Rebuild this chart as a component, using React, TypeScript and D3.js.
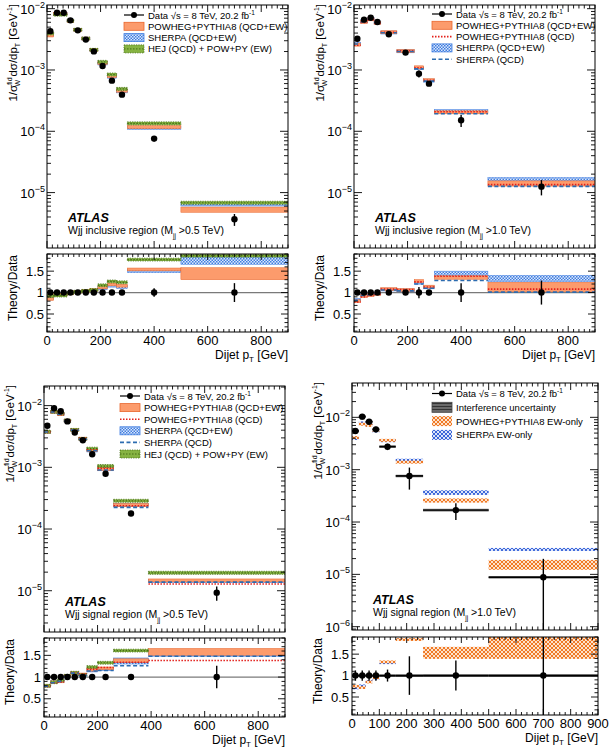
import * as d3 from "d3";

const FONT = "'Liberation Sans', Arial, Helvetica, sans-serif";

// ---- top-left: Wjj inclusive region, Mjj > 0.5 TeV
const inc05Edges = [0, 25, 50, 75, 100, 130, 160, 190, 225, 260, 300, 500, 900];
const inc05Data = [4.3e-3, 8.6e-3, 8.6e-3, 6.45e-3, 4.43e-3, 3.13e-3, 2.01e-3, 1.16e-3, 6.7e-4, 3.96e-4, 7.6e-5, 3.67e-6];
const inc05DataErr = [0.02, 0.02, 0.02, 0.02, 0.02, 0.02, 0.02, 0.03, 0.03, 0.03, 0.1, 0.22];
const inc05PowhegEW = [0.85, 0.95, 0.95, 0.98, 1.02, 1.04, 1.06, 1.12, 1.19, 1.16, 1.54, 1.44];
const inc05PowhegEWErr = [0.03, 0.02, 0.02, 0.02, 0.02, 0.02, 0.02, 0.02, 0.02, 0.02, 0.02, 0.14];
const inc05SherpaEW = [0.87, 0.95, 0.96, 0.99, 1.02, 1.04, 1.05, 1.1, 1.16, 1.13, 1.5, 1.74];
const inc05SherpaEWErr = [0.03, 0.02, 0.02, 0.02, 0.02, 0.02, 0.02, 0.02, 0.02, 0.02, 0.03, 0.08];
const inc05Hej = [0.92, 0.93, 0.93, 0.99, 1.02, 1.04, 1.06, 1.17, 1.26, 1.24, 1.77, 1.86];
const inc05HejErr = [0.02, 0.02, 0.02, 0.02, 0.02, 0.02, 0.02, 0.02, 0.02, 0.02, 0.03, 0.02];

// ---- top-right: Wjj inclusive region, Mjj > 1.0 TeV
const inc10Edges = [0, 25, 50, 75, 100, 160, 225, 260, 300, 500, 900];
const inc10Data = [3.24e-3, 6.62e-3, 7.13e-3, 6.07e-3, 3.82e-3, 1.92e-3, 8.7e-4, 5.98e-4, 1.51e-4, 1.25e-5];
const inc10DataErr = [0.02, 0.02, 0.02, 0.02, 0.02, 0.03, 0.13, 0.06, 0.22, 0.28];
const inc10PowhegEW = [0.8, 0.92, 0.94, 0.97, 1.08, 1.06, 1.27, 1.14, 1.35, 1.13];
const inc10PowhegEWErr = [0.03, 0.02, 0.02, 0.02, 0.02, 0.02, 0.03, 0.03, 0.04, 0.11];
const inc10PowhegQCD = [0.78, 0.9, 0.93, 0.96, 1.08, 1.07, 1.25, 1.13, 1.38, 1.08];
const inc10SherpaEW = [0.83, 0.94, 0.96, 0.98, 1.07, 1.05, 1.23, 1.12, 1.42, 1.33];
const inc10SherpaEWErr = [0.03, 0.02, 0.02, 0.02, 0.02, 0.02, 0.03, 0.03, 0.08, 0.07];
const inc10SherpaQCD = [0.82, 0.93, 0.95, 0.98, 1.06, 1.04, 1.2, 1.1, 1.28, 1.01];

// ---- bottom-left: Wjj signal region, Mjj > 0.5 TeV
const sig05Edges = [0, 25, 50, 75, 100, 130, 160, 200, 260, 390, 900];
const sig05Data = [4.72e-3, 9.05e-3, 8.09e-3, 5.55e-3, 3.67e-3, 2.75e-3, 1.63e-3, 7.88e-4, 1.78e-4, 9.3e-6];
const sig05DataErr = [0.02, 0.02, 0.02, 0.02, 0.03, 0.03, 0.04, 0.04, 0.06, 0.26];
const sig05PowhegEW = [0.8, 0.88, 0.9, 1.03, 1.1, 1.06, 1.17, 1.2, 1.38, 1.58];
const sig05PowhegEWErr = [0.02, 0.02, 0.02, 0.02, 0.02, 0.02, 0.02, 0.03, 0.04, 0.08];
const sig05PowhegQCD = [0.79, 0.87, 0.89, 1.02, 1.1, 1.07, 1.18, 1.22, 1.34, 1.38];
const sig05SherpaEW = [0.8, 0.88, 0.91, 1.02, 1.1, 1.05, 1.15, 1.18, 1.37, 1.55];
const sig05SherpaEWErr = [0.02, 0.02, 0.02, 0.02, 0.02, 0.02, 0.02, 0.03, 0.07, 0.07];
const sig05SherpaQCD = [0.79, 0.87, 0.9, 1.01, 1.09, 1.04, 1.14, 1.15, 1.26, 1.48];
const sig05Hej = [0.8, 0.88, 0.92, 1.03, 1.1, 1.05, 1.23, 1.33, 1.61, 2.1];
const sig05HejErr = [0.02, 0.02, 0.02, 0.02, 0.02, 0.02, 0.02, 0.02, 0.02, 0.02];

// ---- bottom-right: Wjj signal region, Mjj > 1.0 TeV (EW-only)
const sig10Edges = [0, 25, 50, 75, 100, 160, 260, 500, 900];
const sig10Data = [5.48e-3, 1.03e-2, 8.26e-3, 5.9e-3, 2.75e-3, 7.57e-4, 1.69e-4, 8.8e-6];
const sig10DataErr = [0.12, 0.12, 0.12, 0.12, 0.14, 0.45, 0.35, 1.25];
const sig10Interf = [0.01, 0.01, 0.01, 0.01, 0.015, 0.03, 0.01, 0.03];
const sig10PowhegEWOnly = [0.75, 0.72, 0.85, 0.95, 1.32, 1.84, 1.53, 1.77];
const sig10PowhegEWOnlyErr = [0.03, 0.03, 0.03, 0.03, 0.03, 0.03, 0.14, 0.38];
const sig10SherpaEWOnly = [0.72, 0.76, 0.86, 0.93, 1.3, 2.0, 2.17, 3.4];
const sig10SherpaEWOnlyErr = [0.04, 0.03, 0.03, 0.03, 0.03, 0.03, 0.22, 0.05];

const ORANGE = "#fc9b6c";
const ORANGE_EDGE = "#e8662d";
const RED = "#e3201b";
const BLUE_DASH = "#2c6cb0";
const GREEN = "#86b342";
const GREEN_EDGE = "#466e16";

type Kind = "orange" | "sherpa" | "hej" | "redline" | "blueline" | "powew" | "sherpaew" | "interf" | "data";
type Model = { kind: Kind; ratio: number[]; err?: number[] };
type LegendItem = { kind: Kind; label: any };

type PanelCfg = {
  id: string;
  left: number; right: number;
  mainTop: number; mainBot: number;
  ratioTop: number; ratioBot: number;
  logMin: number; logMax: number;
  xStep: number; xLabelMax: number;
  edges: number[]; data: number[]; dataErr: number[];
  interf?: number[];
  models: Model[];
  legend: LegendItem[];
  legX: number; legTop: number; legDy: number; boxH: number;
  region: string; cut: string;
  hbars: boolean;
};

const layerOf: Record<string, number> = { sherpa: 0, sherpaew: 0, orange: 1, powew: 1, hej: 2, redline: 3, blueline: 4 };

const dataLabel = (
  <>
    Data √s = 8 TeV, 20.2 fb<tspan dy={-4} fontSize={6.5}>-1</tspan>
  </>
);

const panels: PanelCfg[] = [
  {
    id: "p1", left: 47, right: 288, mainTop: 5, mainBot: 248, ratioTop: 254, ratioBot: 332,
    logMin: -5.904, logMax: -1.94, xStep: 200, xLabelMax: 800,
    edges: inc05Edges, data: inc05Data, dataErr: inc05DataErr,
    models: [
      { kind: "sherpa", ratio: inc05SherpaEW, err: inc05SherpaEWErr },
      { kind: "orange", ratio: inc05PowhegEW, err: inc05PowhegEWErr },
      { kind: "hej", ratio: inc05Hej, err: inc05HejErr },
    ],
    legend: [
      { kind: "data", label: dataLabel },
      { kind: "orange", label: "POWHEG+PYTHIA8 (QCD+EW)" },
      { kind: "sherpa", label: "SHERPA (QCD+EW)" },
      { kind: "hej", label: "HEJ (QCD) + POW+PY (EW)" },
    ],
    legX: 77, legTop: 10, legDy: 11.3, boxH: 8,
    region: "Wjj inclusive region (M", cut: " >0.5 TeV)", hbars: false,
  },
  {
    id: "p2", left: 354, right: 595, mainTop: 5, mainBot: 248, ratioTop: 254, ratioBot: 332,
    logMin: -5.904, logMax: -1.94, xStep: 200, xLabelMax: 800,
    edges: inc10Edges, data: inc10Data, dataErr: inc10DataErr,
    models: [
      { kind: "sherpa", ratio: inc10SherpaEW, err: inc10SherpaEWErr },
      { kind: "orange", ratio: inc10PowhegEW, err: inc10PowhegEWErr },
      { kind: "redline", ratio: inc10PowhegQCD },
      { kind: "blueline", ratio: inc10SherpaQCD },
    ],
    legend: [
      { kind: "data", label: dataLabel },
      { kind: "orange", label: "POWHEG+PYTHIA8 (QCD+EW)" },
      { kind: "redline", label: "POWHEG+PYTHIA8 (QCD)" },
      { kind: "sherpa", label: "SHERPA (QCD+EW)" },
      { kind: "blueline", label: "SHERPA (QCD)" },
    ],
    legX: 78, legTop: 9, legDy: 11.3, boxH: 8,
    region: "Wjj inclusive region (M", cut: " >1.0 TeV)", hbars: false,
  },
  {
    id: "p3", left: 44, right: 285, mainTop: 386, mainBot: 632, ratioTop: 638, ratioBot: 717,
    logMin: -5.669, logMax: -1.682, xStep: 200, xLabelMax: 800,
    edges: sig05Edges, data: sig05Data, dataErr: sig05DataErr,
    models: [
      { kind: "sherpa", ratio: sig05SherpaEW, err: sig05SherpaEWErr },
      { kind: "orange", ratio: sig05PowhegEW, err: sig05PowhegEWErr },
      { kind: "hej", ratio: sig05Hej, err: sig05HejErr },
      { kind: "redline", ratio: sig05PowhegQCD },
      { kind: "blueline", ratio: sig05SherpaQCD },
    ],
    legend: [
      { kind: "data", label: dataLabel },
      { kind: "orange", label: "POWHEG+PYTHIA8 (QCD+EW)" },
      { kind: "redline", label: "POWHEG+PYTHIA8 (QCD)" },
      { kind: "sherpa", label: "SHERPA (QCD+EW)" },
      { kind: "blueline", label: "SHERPA (QCD)" },
      { kind: "hej", label: "HEJ (QCD) + POW+PY (EW)" },
    ],
    legX: 76, legTop: 10, legDy: 11.6, boxH: 8,
    region: "Wjj signal region (M", cut: " >0.5 TeV)", hbars: false,
  },
  {
    id: "p4", left: 352, right: 598, mainTop: 383, mainBot: 630, ratioTop: 637, ratioBot: 715,
    logMin: -6.063, logMax: -1.344, xStep: 100, xLabelMax: 900,
    edges: sig10Edges, data: sig10Data, dataErr: sig10DataErr, interf: sig10Interf,
    models: [
      { kind: "sherpaew", ratio: sig10SherpaEWOnly, err: sig10SherpaEWOnlyErr },
      { kind: "powew", ratio: sig10PowhegEWOnly, err: sig10PowhegEWOnlyErr },
    ],
    legend: [
      { kind: "data", label: dataLabel },
      { kind: "interf", label: "Interference uncertainty" },
      { kind: "powew", label: "POWHEG+PYTHIA8 EW-only" },
      { kind: "sherpaew", label: "SHERPA EW-only" },
    ],
    legX: 80, legTop: 10.5, legDy: 13.8, boxH: 10,
    region: "Wjj signal region (M", cut: " >1.0 TeV)", hbars: true,
  },
];

const bandFill = (k: Kind) =>
  k === "orange" ? ORANGE : k === "sherpa" ? "url(#chk)" : k === "hej" ? GREEN :
  k === "powew" ? "url(#powew)" : k === "sherpaew" ? "url(#sherpaew)" : "url(#interf)";
const bandStroke = (k: Kind) =>
  k === "orange" ? ORANGE_EDGE : k === "sherpa" ? "#3f7de0" : k === "hej" ? GREEN_EDGE : "none";

function band(ya: number, yb: number, minH: number) {
  let top = Math.min(ya, yb);
  let h = Math.abs(yb - ya);
  if (h < minH) { top = (ya + yb) / 2 - minH / 2; h = minH; }
  return { top, h };
}

function ModelMarks({ m, x, yf, edges, minH }: { m: Model; x: any; yf: (i: number, r: number) => number; edges: number[]; minH: number }) {
  return (
    <g>
      {m.ratio.map((r, i) => {
        const x0 = x(edges[i]);
        const x1 = x(edges[i + 1]);
        if (m.kind === "redline" || m.kind === "blueline") {
          const yy = yf(i, r);
          return (
            <line key={i} x1={x0} x2={x1} y1={yy} y2={yy}
              stroke={m.kind === "redline" ? RED : BLUE_DASH} strokeWidth={1.6}
              strokeDasharray={m.kind === "redline" ? "1.5,1.5" : "4,2.5"} />
          );
        }
        const e = m.err ? m.err[i] : 0;
        const b = band(yf(i, r + e), yf(i, Math.max(r - e, 1e-3)), minH);
        const yc = yf(i, r);
        return (
          <g key={i}>
            <rect x={x0} y={b.top} width={x1 - x0} height={b.h} fill={bandFill(m.kind)}
              stroke={bandStroke(m.kind)} strokeWidth={m.kind === "hej" ? 0.8 : 0.5}
              strokeDasharray={m.kind === "hej" ? "1.2,1.2" : undefined} />
            {m.kind === "hej" && (
              <line x1={x0} x2={x1} y1={yc} y2={yc} stroke={GREEN_EDGE} strokeWidth={1.2} strokeDasharray="1.5,1.5" />
            )}
          </g>
        );
      })}
    </g>
  );
}

function LegendSymbol({ kind, x0, yc, h }: { kind: Kind; x0: number; yc: number; h: number }) {
  const w = 20;
  if (kind === "data") {
    return (
      <g>
        <line x1={x0} x2={x0 + w} y1={yc} y2={yc} stroke="#000" strokeWidth={1.2} />
        <circle cx={x0 + w / 2} cy={yc} r={3} fill="#000" />
      </g>
    );
  }
  if (kind === "redline" || kind === "blueline") {
    return (
      <line x1={x0} x2={x0 + w} y1={yc} y2={yc} stroke={kind === "redline" ? RED : BLUE_DASH}
        strokeWidth={1.6} strokeDasharray={kind === "redline" ? "1.5,1.5" : "4,2.5"} />
    );
  }
  return (
    <g>
      <rect x={x0} y={yc - h / 2} width={w} height={h} fill={bandFill(kind)}
        stroke={kind === "hej" ? GREEN_EDGE : kind === "interf" ? "#444" : bandStroke(kind)}
        strokeWidth={0.8} strokeDasharray={kind === "hej" ? "1.2,1.2" : undefined} />
      {kind === "hej" && (
        <line x1={x0} x2={x0 + w} y1={yc} y2={yc} stroke={GREEN_EDGE} strokeWidth={1} strokeDasharray="1.5,1.5" />
      )}
    </g>
  );
}

function Panel({ p }: { p: PanelCfg }) {
  const x = d3.scaleLinear().domain([0, 900]).range([p.left, p.right]);
  const y = d3.scaleLog().domain([Math.pow(10, p.logMin), Math.pow(10, p.logMax)]).range([p.mainBot, p.mainTop]);
  const yr = d3.scaleLinear().domain([0.08, 1.9]).range([p.ratioBot, p.ratioTop]);
  const yMin = Math.pow(10, p.logMin - 1);

  const centers = p.data.map((_, i) => (p.edges[i] + p.edges[i + 1]) / 2);
  const sorted = [...p.models].sort((a, b) => layerOf[a.kind] - layerOf[b.kind]);

  // tick paths
  let tk = "";
  const minorX = d3.range(0, 901, 20);
  for (const v of minorX) {
    const major = v % p.xStep === 0;
    const xx = x(v);
    const lm = major ? 7 : 3.5;
    const lr = major ? 6 : 3;
    tk += `M${xx},${p.mainBot}v${-lm}M${xx},${p.mainTop}v${lm}`;
    tk += `M${xx},${p.ratioBot}v${-lr}M${xx},${p.ratioTop}v${lr}`;
  }
  for (let d = Math.floor(p.logMin); d <= Math.ceil(p.logMax); d++) {
    for (let m = 1; m <= 9; m++) {
      const v = m * Math.pow(10, d);
      const lv = Math.log10(v);
      if (lv < p.logMin || lv > p.logMax) continue;
      const yy = y(v);
      const l = m === 1 ? 8 : 4;
      tk += `M${p.left},${yy}h${l}M${p.right},${yy}h${-l}`;
    }
  }
  for (const v of d3.range(0.1, 1.9001, 0.1)) {
    const major = Math.abs(v * 2 - Math.round(v * 2)) < 1e-6;
    const yy = yr(v);
    const l = major ? 7 : 3.5;
    tk += `M${p.left},${yy}h${l}M${p.right},${yy}h${-l}`;
  }

  const decades = d3.range(Math.ceil(p.logMin), Math.floor(p.logMax) + 1);
  const labX = p.left - 30;

  return (
    <g>
      <defs>
        <clipPath id={`${p.id}-main`}>
          <rect x={p.left} y={p.mainTop} width={p.right - p.left} height={p.mainBot - p.mainTop} />
        </clipPath>
        <clipPath id={`${p.id}-ratio`}>
          <rect x={p.left} y={p.ratioTop} width={p.right - p.left} height={p.ratioBot - p.ratioTop} />
        </clipPath>
      </defs>

      {/* main panel */}
      <g clipPath={`url(#${p.id}-main)`}>
        {sorted.map((m, k) => (
          <ModelMarks key={k} m={m} x={x} edges={p.edges} minH={3}
            yf={(i, r) => y(Math.max(p.data[i] * r, yMin))} />
        ))}
        {p.interf && p.interf.map((e, i) => {
          const b = band(y(p.data[i] * (1 + e)), y(p.data[i] * (1 - e)), 2.5);
          return <rect key={i} x={x(p.edges[i])} y={b.top} width={x(p.edges[i + 1]) - x(p.edges[i])} height={b.h} fill="url(#interf)" />;
        })}
        {p.data.map((v, i) => {
          const e = p.dataErr[i];
          return (
            <g key={i}>
              <line x1={x(centers[i])} x2={x(centers[i])} y1={y(v * (1 + e))} y2={y(Math.max(v * (1 - e), yMin))} stroke="#000" strokeWidth={1.4} />
              {p.hbars && <line x1={x(p.edges[i])} x2={x(p.edges[i + 1])} y1={y(v)} y2={y(v)} stroke="#000" strokeWidth={1.4} />}
              <circle cx={x(centers[i])} cy={y(v)} r={3.2} fill="#000" />
            </g>
          );
        })}
      </g>

      {/* ratio panel */}
      <g clipPath={`url(#${p.id}-ratio)`}>
        <line x1={p.left} x2={p.right} y1={yr(1)} y2={yr(1)} stroke="#7a7a7a" strokeWidth={1.2} />
        {sorted.map((m, k) => (
          <ModelMarks key={k} m={m} x={x} edges={p.edges} minH={2.8} yf={(_, r) => yr(r)} />
        ))}
        {p.interf && p.interf.map((e, i) => {
          const b = band(yr(1 + e), yr(1 - e), 2.5);
          return <rect key={i} x={x(p.edges[i])} y={b.top} width={x(p.edges[i + 1]) - x(p.edges[i])} height={b.h} fill="url(#interf)" />;
        })}
        {p.dataErr.map((e, i) => (
          <g key={i}>
            <line x1={x(centers[i])} x2={x(centers[i])} y1={yr(1 + e)} y2={yr(1 - e)} stroke="#000" strokeWidth={1.4} />
            {p.hbars && <line x1={x(p.edges[i])} x2={x(p.edges[i + 1])} y1={yr(1)} y2={yr(1)} stroke="#000" strokeWidth={1.4} />}
            <circle cx={x(centers[i])} cy={yr(1)} r={3.2} fill="#000" />
          </g>
        ))}
      </g>

      {/* frames and ticks */}
      <rect x={p.left} y={p.mainTop} width={p.right - p.left} height={p.mainBot - p.mainTop} fill="none" stroke="#000" strokeWidth={1} />
      <rect x={p.left} y={p.ratioTop} width={p.right - p.left} height={p.ratioBot - p.ratioTop} fill="none" stroke="#000" strokeWidth={1} />
      <path d={tk} stroke="#000" strokeWidth={0.9} fill="none" />

      {/* log tick labels */}
      {decades.map(d => (
        <text key={d} x={p.left - 2} y={y(Math.pow(10, d)) + 5} textAnchor="end" fontSize={13}>
          10<tspan dy={-6} fontSize={9}>{`−${-d}`}</tspan>
        </text>
      ))}
      {/* ratio tick labels */}
      {[0.5, 1, 1.5].map(v => (
        <text key={v} x={p.left - 3} y={yr(v) + 4.5} textAnchor="end" fontSize={13}>{String(v)}</text>
      ))}
      {/* x tick labels */}
      {d3.range(0, p.xLabelMax + 1, p.xStep).map(v => (
        <text key={v} x={x(v)} y={p.ratioBot + 13} textAnchor="middle" fontSize={13}>{String(v)}</text>
      ))}
      <text x={p.right} y={p.ratioBot + 27} textAnchor="end" fontSize={12}>
        Dijet p<tspan dy={3} fontSize={8}>T</tspan><tspan dy={-3}> [GeV]</tspan>
      </text>

      {/* axis titles */}
      <text transform={`translate(${labX},${p.mainTop - 1}) rotate(-90)`} textAnchor="end" fontSize={11.5}>
        1/σ<tspan dy={-5} fontSize={7}>fid</tspan><tspan dx={-9} dy={8} fontSize={7}>W</tspan>
        <tspan dy={-3}> dσ/dp</tspan><tspan dy={3} fontSize={7}>T</tspan>
        <tspan dy={-3}> [GeV</tspan><tspan dy={-5} fontSize={7}>-1</tspan><tspan dy={5}>]</tspan>
      </text>
      <text transform={`translate(${labX},${p.ratioTop + 1}) rotate(-90)`} textAnchor="end" fontSize={12}>
        Theory/Data
      </text>

      {/* ATLAS label */}
      <text x={p.left + 21} y={p.mainBot - 26} fontSize={12.5} fontWeight="bold" fontStyle="italic">ATLAS</text>
      <text x={p.left + 21} y={p.mainBot - 14} fontSize={10.5}>
        {p.region}<tspan dy={4} fontSize={6.5}>jj</tspan><tspan dy={-4}>{p.cut}</tspan>
      </text>

      {/* legend */}
      {p.legend.map((it, i) => {
        const yc = p.mainTop + p.legTop + i * p.legDy;
        const x0 = p.left + p.legX;
        return (
          <g key={i}>
            <LegendSymbol kind={it.kind} x0={x0} yc={yc} h={p.boxH} />
            <text x={x0 + 24} y={yc + 3.5} fontSize={9.5}>{it.label}</text>
          </g>
        );
      })}
    </g>
  );
}

export default function App() {
  return (
    <div style={{ position: "absolute", left: 0, top: 0, width: 610, height: 752, background: "#fff" }}>
      <svg width={610} height={752} style={{ display: "block", fontFamily: FONT }}>
        <defs>
          <pattern id="chk" width="3" height="3" patternUnits="userSpaceOnUse">
            <rect width="3" height="3" fill="#dce8fb" />
            <rect width="1.5" height="1.5" fill="#3f7de0" />
            <rect x="1.5" y="1.5" width="1.5" height="1.5" fill="#3f7de0" />
          </pattern>
          <pattern id="powew" width="4" height="4" patternUnits="userSpaceOnUse">
            <rect width="4" height="4" fill="#fde2cc" />
            <path d="M0,4L4,0M0,0L4,4" stroke="#f07a26" strokeWidth="1" />
          </pattern>
          <pattern id="sherpaew" width="4" height="4" patternUnits="userSpaceOnUse">
            <rect width="4" height="4" fill="#dbe4fa" />
            <path d="M0,4L4,0M0,0L4,4" stroke="#3b66d9" strokeWidth="1" />
          </pattern>
          <pattern id="interf" width="3" height="3" patternUnits="userSpaceOnUse">
            <rect width="3" height="3" fill="#6a6a6a" />
            <line x1="0" y1="1.5" x2="3" y2="1.5" stroke="#333" strokeWidth="1" />
          </pattern>
        </defs>
        <rect width={610} height={752} fill="#fff" />
        {panels.map(p => <Panel key={p.id} p={p} />)}
      </svg>
    </div>
  );
}
